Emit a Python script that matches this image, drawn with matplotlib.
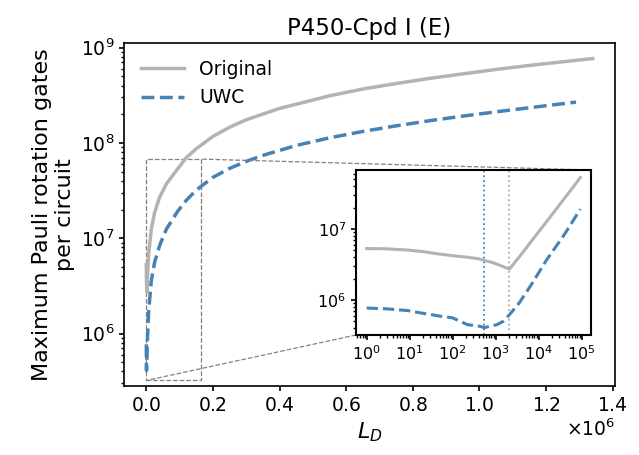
import matplotlib
matplotlib.use("Agg")
import matplotlib.pyplot as plt
import numpy as np
from matplotlib.ticker import LogLocator
from mpl_toolkits.axes_grid1.inset_locator import mark_inset

plt.rcParams['axes.formatter.use_mathtext'] = True

# Data
ld_orig = [1, 3, 9, 20, 54, 100, 220, 400, 550, 800, 1070, 1500, 2090, 3500, 7000,
           15000, 25000, 40000, 60000, 93300, 120000, 150000, 200000, 250000, 300000,
           400000, 550000, 650000, 750000, 850000, 950000, 1050000, 1150000, 1250000,
           1340000]
gates_orig = [5.3e6, 5.25e6, 5.05e6, 4.8e6, 4.4e6, 4.2e6, 4.0e6, 3.8e6, 3.6e6, 3.4e6,
              3.2e6, 2.95e6, 2.72e6, 4.0e6, 6.9e6, 1.25e7, 1.86e7, 2.7e7, 3.7e7, 5.3e7,
              7.0e7, 8.7e7, 1.17e8, 1.46e8, 1.75e8, 2.3e8, 3.12e8, 3.68e8, 4.2e8, 4.75e8,
              5.3e8, 5.9e8, 6.5e8, 7.1e8, 7.67e8]
ld_uwc = [1, 3, 9, 20, 54, 100, 220, 400, 550, 800, 1070, 1500, 2090, 3500, 7000,
          15000, 25000, 40000, 60000, 93300, 120000, 150000, 200000, 250000, 300000,
          350000, 450000, 550000, 650000, 750000, 850000, 950000, 1050000, 1150000,
          1290000]
gates_uwc = [7.7e5, 7.5e5, 7.1e5, 6.5e5, 5.9e5, 5.6e5, 4.5e5, 4.3e5, 4.1e5, 4.3e5,
             4.5e5, 5.0e5, 6.2e5, 9.0e5, 1.7e6, 3.6e6, 5.6e6, 8.4e6, 1.24e7, 1.9e7,
             2.5e7, 3.2e7, 4.35e7, 5.4e7, 6.4e7, 7.4e7, 9.4e7, 1.13e8, 1.32e8, 1.51e8,
             1.71e8, 1.91e8, 2.12e8, 2.34e8, 2.68e8]
inset_max_ld = 1e5
min_orig_ld = 2090
min_uwc_ld = 550

c_orig = '#b3b3b3'
c_uwc = '#4682b4'

fig = plt.figure(figsize=(6.39, 4.55), dpi=100)
ax = fig.add_axes([124/639, 1-386/455, (615-124)/639, (386-43)/455])

ax.plot(ld_orig, gates_orig, color=c_orig, lw=2.5, label='Original')
ax.plot(ld_uwc, gates_uwc, color=c_uwc, lw=2.5, ls='--', label='UWC')
ax.set_yscale('log')
ax.set_title('P450-Cpd I (E)', fontsize=16.5)
ax.set_xlabel('$L_D$', fontsize=16)
ax.set_ylabel('Maximum Pauli rotation gates\nper circuit', fontsize=16)
ax.tick_params(labelsize=13.5, width=1.2)
ax.tick_params(which='minor', width=1.0)
ax.xaxis.get_offset_text().set_fontsize(13.5)
for s in ax.spines.values():
    s.set_linewidth(1.2)
ax.legend(loc='upper left', frameon=False, fontsize=13.5, handlelength=2.3)

# Inset
axins = fig.add_axes([356/639, 1-335/455, (591-356)/639, (335-170)/455])
xo = np.array(ld_orig); yo = np.array(gates_orig)
xu = np.array(ld_uwc); yu = np.array(gates_uwc)
mo = xo <= inset_max_ld
mu = xu <= inset_max_ld
axins.axvline(min_uwc_ld, color=c_uwc, ls=':', lw=1.3)
axins.axvline(min_orig_ld, color='#aaaaaa', ls=':', lw=1.3)
axins.plot(xo[mo], yo[mo], color=c_orig, lw=2.2)
axins.plot(xu[mu], yu[mu], color=c_uwc, lw=2.2, ls='--')
axins.set_xscale('log')
axins.set_yscale('log')
axins.xaxis.set_major_locator(LogLocator(base=10, numticks=12))
axins.xaxis.set_minor_locator(LogLocator(base=10, subs=np.arange(2, 10), numticks=12))
axins.tick_params(labelsize=11.5, width=1.2)
axins.tick_params(which='minor', width=1.0)
for s in axins.spines.values():
    s.set_linewidth(1.5)

mark_inset(ax, axins, loc1=1, loc2=3, fc='none', ec='0.5', ls='--', lw=0.9)

fig.savefig('out.png', dpi=100)
